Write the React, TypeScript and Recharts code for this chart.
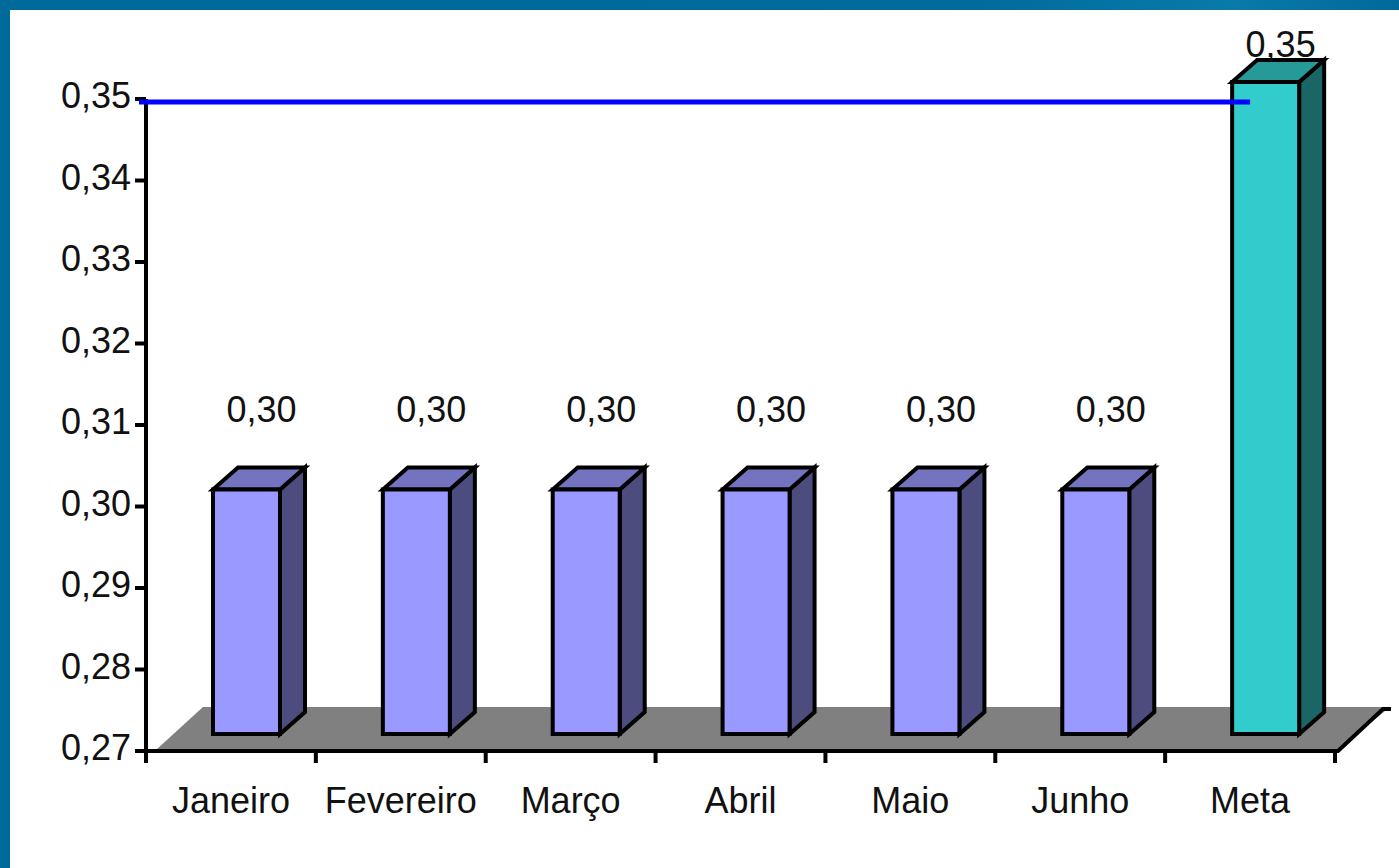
import React from 'react';
import { BarChart, Bar, XAxis, YAxis, ReferenceLine, ReferenceArea, LabelList } from 'recharts';

const months = ['Janeiro', 'Fevereiro', 'Março', 'Abril', 'Maio', 'Junho', 'Meta'];
const values = [0.3, 0.3, 0.3, 0.3, 0.3, 0.3, 0.35];
const yTicks = [0.27, 0.28, 0.29, 0.3, 0.31, 0.32, 0.33, 0.34, 0.35];
const target = 0.35;

const W = 1399;
const H = 868;
const PLOT_LEFT = 146;
const PLOT_RIGHT = 1335;
const PLOT_TOP = 99;
const PLOT_BOTTOM = 751;
const BAND = (PLOT_RIGHT - PLOT_LEFT) / months.length;
const FONT = '"Liberation Sans", Arial, sans-serif';

const data = months.map((m, i) => ({ name: m, value: values[i] }));

const fmt = (v: number) => v.toFixed(2).replace('.', ',');

// oblique 3d column: front face pushed into the floor, depth goes up-right
function Column3D(props: any) {
  const { x, y, width, height, payload } = props;
  const meta = payload && payload.name === 'Meta';
  const front = meta ? '#33cccc' : '#9999ff';
  const top = meta ? '#269999' : '#7373bf';
  const side = meta ? '#1a6666' : '#4c4c7f';
  const dx = 25;
  const dy = -22;
  const fx = x + 16;
  const fr = fx + width;
  const ft = y - 17;
  const fb = y + height - 17;
  const s = { stroke: '#000', strokeWidth: 4, strokeLinejoin: 'miter' as const };
  return (
    <g>
      <polygon points={`${fr},${ft} ${fr + dx},${ft + dy} ${fr + dx},${fb + dy} ${fr},${fb}`} fill={side} {...s} />
      <polygon points={`${fx},${ft} ${fx + dx},${ft + dy} ${fr + dx},${ft + dy} ${fr},${ft}`} fill={top} {...s} />
      <rect x={fx} y={ft} width={width} height={fb - ft} fill={front} {...s} />
    </g>
  );
}

function Floor(props: any) {
  const { x, y, height, width } = props;
  const b = y + height;
  return (
    <g>
      <polygon
        points={`${x + 11},${b - 2} ${x + 57},${b - 44} ${x + width + 55},${b - 44} ${x + width + 3},${b - 2}`}
        fill="#808080"
      />
      <polyline
        points={`${x + width},${b} ${x + width + 3},${b} ${x + width + 48},${b - 42} ${x + width + 56},${b - 42}`}
        fill="none"
        stroke="#000"
        strokeWidth={4}
      />
    </g>
  );
}

function TargetLine(props: any) {
  const { x1, x2, y1 } = props;
  return <line x1={x1 - 7} x2={x2 - BAND / 2} y1={y1 + 3} y2={y1 + 3} stroke="#0000ff" strokeWidth={5} />;
}

function YTick(props: any) {
  const { y, payload } = props;
  return (
    <text x={PLOT_LEFT - 15} y={y + 9} textAnchor="end" fontSize={36} fontFamily={FONT} fill="#111">
      {fmt(payload.value)}
    </text>
  );
}

function XTick(props: any) {
  const { x, payload, index } = props;
  const last = index === months.length - 1;
  return (
    <g>
      <line x1={x - BAND / 2} x2={x - BAND / 2} y1={PLOT_BOTTOM} y2={PLOT_BOTTOM + 12} stroke="#000" strokeWidth={4} />
      {last && <line x1={x + BAND / 2} x2={x + BAND / 2} y1={PLOT_BOTTOM} y2={PLOT_BOTTOM + 12} stroke="#000" strokeWidth={4} />}
      <text x={x} y={PLOT_BOTTOM + 62} textAnchor="middle" fontSize={36} fontFamily={FONT} fill="#111">
        {payload.value}
      </text>
    </g>
  );
}

function ValueLabel(props: any) {
  const { x, y, width, value, index } = props;
  // the target label sits right on its column, the month labels float higher
  const lift = index === months.length - 1 ? 42 : 85;
  return (
    <text x={x + width / 2 + 31} y={y - lift} textAnchor="middle" fontSize={36} fontFamily={FONT} fill="#111">
      {fmt(value)}
    </text>
  );
}

export default function App() {
  return (
    <div style={{ position: 'fixed', left: 0, top: 0, width: W, height: H, background: '#fff', overflow: 'hidden' }}>
      <BarChart
        width={W}
        height={H}
        data={data}
        margin={{ top: PLOT_TOP, right: W - PLOT_RIGHT, left: PLOT_LEFT - 90, bottom: H - PLOT_BOTTOM - 60 }}
      >
        <ReferenceArea y1={0.27} y2={0.275} shape={Floor} ifOverflow="visible" zIndex={-10} />
        <XAxis
          dataKey="name"
          height={60}
          axisLine={{ stroke: '#000', strokeWidth: 4 }}
          tickLine={false}
          tick={XTick}
          interval={0}
        />
        <YAxis
          width={90}
          domain={[0.27, 0.35]}
          ticks={yTicks}
          axisLine={{ stroke: '#000', strokeWidth: 4 }}
          tickLine={{ stroke: '#000', strokeWidth: 4 }}
          tickSize={11}
          tick={YTick}
        />
        <Bar dataKey="value" barSize={67} shape={Column3D} isAnimationActive={false}>
          <LabelList dataKey="value" content={ValueLabel} />
        </Bar>
        <ReferenceLine y={target} shape={TargetLine} ifOverflow="visible" zIndex={1500} />
      </BarChart>
      <div style={{ position: 'absolute', left: 0, top: 0, width: W, height: 10, background: 'linear-gradient(90deg, #006a9a, #006c9c 70%, #0a7aa9 88%, #006a9a)' }} />
      <div style={{ position: 'absolute', left: 0, top: 0, width: 10, height: H, background: '#006a9a' }} />
    </div>
  );
}
